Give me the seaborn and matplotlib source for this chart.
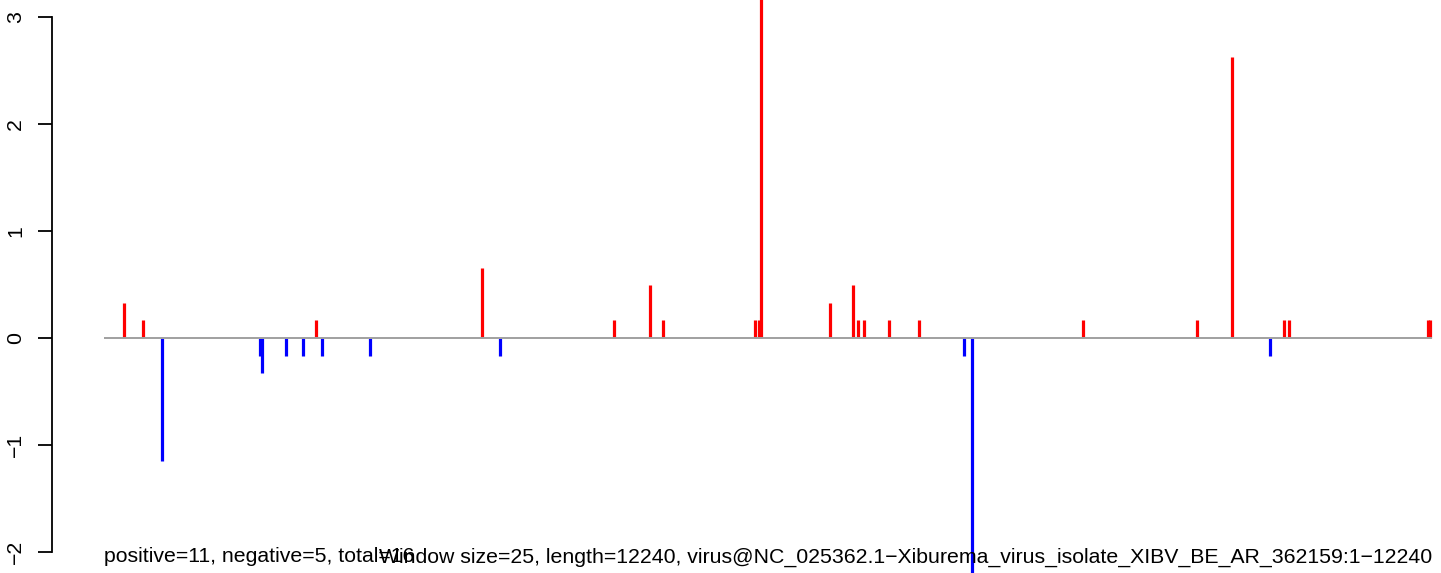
import numpy as np
import pandas as pd
import matplotlib
matplotlib.use("Agg")
import matplotlib.pyplot as plt
import seaborn as sns

# -----------------------------
# Data: window positions (nt) and scores
# -----------------------------
seq_len = 12240
positions = [193, 367, 542, 1439, 1463, 1684, 1841, 1961, 2016, 2458,
             3490, 3656, 4706, 5038, 5158, 6007, 6035, 6062, 6689, 6910,
             6956, 7011, 7233, 7509, 7931, 8005, 9027, 10078, 10400, 10750,
             10879, 10925, 12199, 12226]
scores = [0.33, 0.17, -1.15, -0.17, -0.33, -0.17, -0.17, 0.17, -0.17, -0.17,
          0.66, -0.17, 0.17, 0.50, 0.17, 0.17, 0.17, 3.33, 0.33, 0.50,
          0.17, 0.17, 0.17, 0.17, -0.17, -2.50, 0.17, 0.17, 2.63, -0.17,
          0.17, 0.17, 0.17, 0.17]
y_ticks = [-2, -1, 0, 1, 2, 3]
left_text = "positive=11, negative=5, total=16"
right_text = ("Window size=25, length=12240, "
              "virus@NC_025362.1\u2212Xiburema_virus_isolate_XIBV_BE_AR_362159:1\u221212240")

# long-form table: each bar is a vertical segment from 0 to its score
rows = []
for i, (p, s) in enumerate(zip(positions, scores)):
    sign = "pos" if s > 0 else "neg"
    rows.append({"bar": i, "pos": p, "val": 0.0, "sign": sign})
    rows.append({"bar": i, "pos": p, "val": s, "sign": sign})
df = pd.DataFrame(rows)

sns.set_theme(style="white")
plt.rcParams["font.family"] = ["Liberation Sans", "DejaVu Sans"]

fig = plt.figure(figsize=(14.41, 5.73), dpi=100)
ax = fig.add_axes([0, 0, 1, 1])

sns.lineplot(data=df, x="pos", y="val", units="bar", estimator=None,
             hue="sign", palette={"pos": "#FF0000", "neg": "#0000FF"},
             sort=False, legend=False, linewidth=2.3,
             solid_capstyle="butt", ax=ax)
ax.hlines(0, 0, seq_len, color="#A0A0A0", linewidth=1.4, zorder=3)

px = seq_len / 1328.5
ax.set_xlim(-103.5 * px, (1441 - 103.5) * px)
ax.set_ylim(-2.196, 3.162)

# R-like left axis
for s in ["top", "right", "bottom"]:
    ax.spines[s].set_visible(False)
ax.spines["left"].set_position(("data", -52 * px))
ax.spines["left"].set_bounds(-2, 3)
ax.spines["left"].set_color("black")
ax.spines["left"].set_linewidth(1.3)
ax.set_yticks(y_ticks)
ax.set_yticklabels([str(t).replace("-", "\u2212") for t in y_ticks],
                   rotation=90, va="center", fontsize=15.3)
ax.tick_params(axis="y", left=True, length=10, width=1.3, pad=9, colors="black")
ax.set_xticks([])
ax.set_xlabel("")
ax.set_ylabel("")

ax.text(0, 16 / 573, left_text, transform=ax.get_xaxis_transform(),
        ha="left", va="center", fontsize=15.3, color="black")
ax.text(seq_len, 16 / 573, right_text, transform=ax.get_xaxis_transform(),
        ha="right", va="center", fontsize=15.3, color="black")

fig.savefig("out.png", dpi=100, facecolor="white")
